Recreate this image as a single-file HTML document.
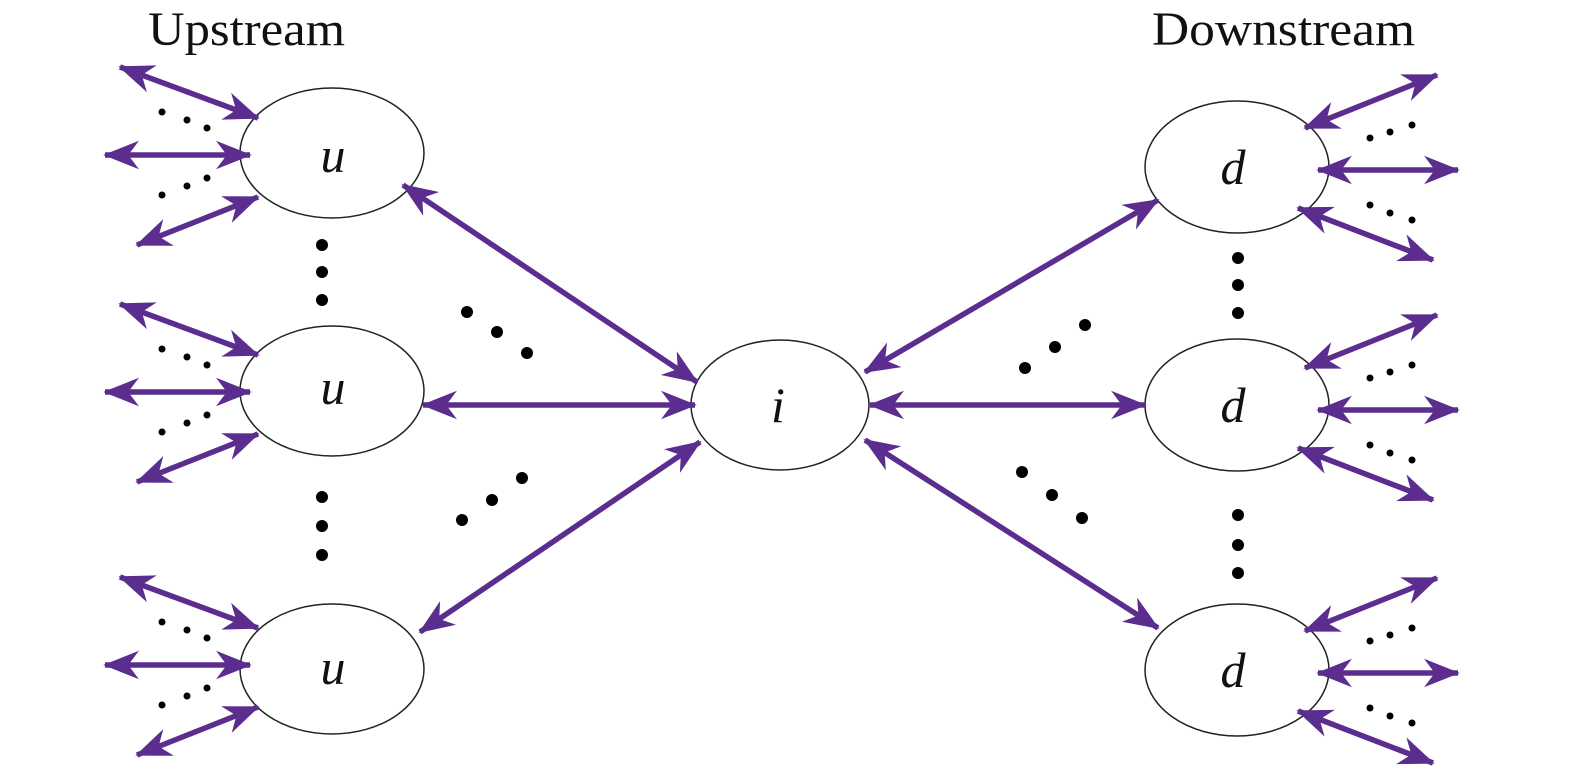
<!DOCTYPE html>
<html><head><meta charset="utf-8"><style>
html,body{margin:0;padding:0;background:#fff;}
svg{display:block}
</style></head><body>
<svg width="1575" height="778" viewBox="0 0 1575 778" xmlns="http://www.w3.org/2000/svg">
<defs>
<marker id="a" viewBox="0 0 20 16" refX="19" refY="8" markerWidth="6.5" markerHeight="5.2" orient="auto-start-reverse" markerUnits="strokeWidth">
<path d="M0,0 L20,8 L0,16 L6,8 Z" fill="#5a2d8f"/>
</marker>
</defs>
<g font-family="Liberation Serif, serif" font-size="48" fill="#111">
<text x="148" y="45" textLength="197" lengthAdjust="spacingAndGlyphs">Upstream</text>
<text x="1152" y="45" textLength="263" lengthAdjust="spacingAndGlyphs">Downstream</text>
</g>
<g fill="#fff" stroke="#222" stroke-width="1.5">
<ellipse cx="332" cy="153" rx="92" ry="65"/>
<ellipse cx="332" cy="391" rx="92" ry="65"/>
<ellipse cx="332" cy="669" rx="92" ry="65"/>
<ellipse cx="780" cy="405" rx="89" ry="65"/>
<ellipse cx="1237" cy="167" rx="92" ry="66"/>
<ellipse cx="1237" cy="405" rx="92" ry="66"/>
<ellipse cx="1237" cy="670" rx="92" ry="66"/>
</g>
<g font-family="Liberation Serif, serif" font-size="50" font-style="italic" fill="#111" text-anchor="middle">
<text x="333" y="172">u</text>
<text x="333" y="404">u</text>
<text x="333" y="684">u</text>
<text x="778" y="422">i</text>
<text x="1233" y="184">d</text>
<text x="1233" y="422">d</text>
<text x="1233" y="687">d</text>
</g>
<g stroke="#5a2d8f" stroke-width="5.5" fill="none" marker-start="url(#a)" marker-end="url(#a)">
<line x1="403" y1="185" x2="697" y2="382"/>
<line x1="423" y1="405" x2="695" y2="405"/>
<line x1="420" y1="632" x2="700" y2="442"/>
<line x1="870" y1="405" x2="1145" y2="405"/>
<line x1="865" y1="372" x2="1158" y2="200"/>
<line x1="865" y1="440" x2="1158" y2="628"/>
<g id="L">
<line x1="120" y1="67" x2="258" y2="118"/>
<line x1="105" y1="155" x2="250" y2="155"/>
<line x1="137" y1="245" x2="258" y2="197"/>
</g>
<use href="#L" transform="translate(0,237)"/>
<use href="#L" transform="translate(0,510)"/>
<g id="R">
<line x1="1305" y1="128" x2="1437" y2="75"/>
<line x1="1318" y1="170" x2="1458" y2="170"/>
<line x1="1298" y1="208" x2="1433" y2="260"/>
</g>
<use href="#R" transform="translate(0,240)"/>
<use href="#R" transform="translate(0,503)"/>
</g>
<g fill="#000">
<g id="LD"><circle cx="162" cy="112" r="3.5"/><circle cx="187" cy="120" r="3.5"/><circle cx="207" cy="128" r="3.5"/>
<circle cx="207" cy="178" r="3.5"/><circle cx="187" cy="186" r="3.5"/><circle cx="162" cy="195" r="3.5"/></g>
<use href="#LD" transform="translate(0,237)"/>
<use href="#LD" transform="translate(0,510)"/>
<g id="RD"><circle cx="1370" cy="138" r="3.5"/><circle cx="1390" cy="132" r="3.5"/><circle cx="1412" cy="125" r="3.5"/>
<circle cx="1370" cy="205" r="3.5"/><circle cx="1390" cy="213" r="3.5"/><circle cx="1412" cy="220" r="3.5"/></g>
<use href="#RD" transform="translate(0,240)"/>
<use href="#RD" transform="translate(0,503)"/>
<circle cx="467" cy="312" r="6"/><circle cx="497" cy="332" r="6"/><circle cx="527" cy="353" r="6"/>
<circle cx="462" cy="520" r="6"/><circle cx="492" cy="500" r="6"/><circle cx="522" cy="478" r="6"/>
<circle cx="1025" cy="368" r="6"/><circle cx="1055" cy="347" r="6"/><circle cx="1085" cy="325" r="6"/>
<circle cx="1022" cy="472" r="6"/><circle cx="1052" cy="495" r="6"/><circle cx="1082" cy="518" r="6"/>
<circle cx="322" cy="245" r="6"/><circle cx="322" cy="272" r="6"/><circle cx="322" cy="300" r="6"/>
<circle cx="322" cy="497" r="6"/><circle cx="322" cy="526" r="6"/><circle cx="322" cy="555" r="6"/>
<circle cx="1238" cy="258" r="6"/><circle cx="1238" cy="285" r="6"/><circle cx="1238" cy="313" r="6"/>
<circle cx="1238" cy="515" r="6"/><circle cx="1238" cy="545" r="6"/><circle cx="1238" cy="573" r="6"/>
</g>
</svg>
</body></html>
